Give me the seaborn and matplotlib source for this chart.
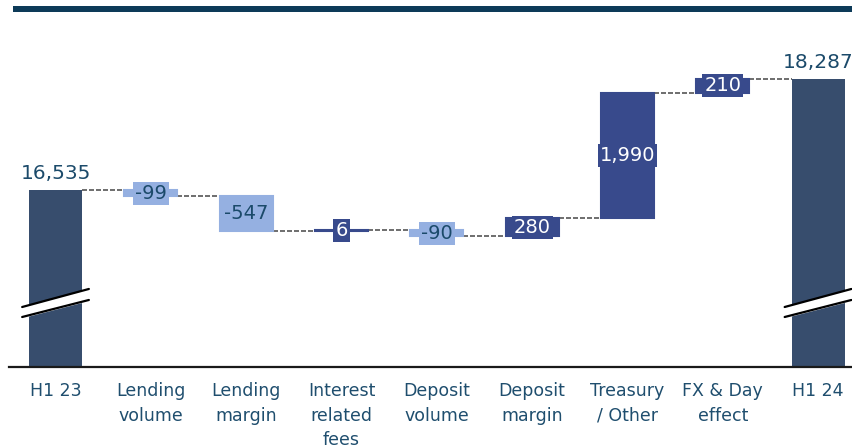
import numpy as np
import pandas as pd
import matplotlib.pyplot as plt
import seaborn as sns
from matplotlib.patches import Rectangle

# data
categories = ["H1 23", "Lending\nvolume", "Lending\nmargin", "Interest\nrelated\nfees",
              "Deposit\nvolume", "Deposit\nmargin", "Treasury\n/ Other", "FX & Day\neffect", "H1 24"]
values = [16535, -99, -547, 6, -90, 280, 1990, 210, 18287]
kinds = ["total", "delta", "delta", "delta", "delta", "delta", "delta", "delta", "total"]

# colours
c_total = "#374d6d"
c_pos = "#384a8c"
c_neg = "#95b0e1"
c_text = "#1b4a6a"
c_tick = "#1f4e6e"

# waterfall geometry from the values
bottoms, heights, colors, levels = [], [], [], []
run = 0
for v, k in zip(values, kinds):
    if k == "total":
        bottoms.append(0)
        heights.append(v)
        colors.append(c_total)
        run = v
    else:
        bottoms.append(min(run, run + v))
        heights.append(abs(v))
        colors.append(c_pos if v > 0 else c_neg)
        run = run + v
    levels.append(run)

df = pd.DataFrame({"cat": categories, "h": heights})

fig = plt.figure(figsize=(8.53, 4.48), dpi=100)
sns.set_style("white")
ax = fig.add_axes([9 / 853, 1 - 367 / 448, 1 - 9 / 853, (367 - 40) / 448])

bar_w = 0.556
sns.barplot(data=df, x="cat", y="h", hue="cat", order=categories,
            palette=dict(zip(categories, colors)), saturation=1,
            width=bar_w, errorbar=None, legend=False, ax=ax)

for p in ax.patches:
    i = int(round(p.get_x() + p.get_width() / 2))
    p.set_y(bottoms[i])
    p.set_edgecolor(colors[i])
    p.set_linewidth(1.5 if kinds[i] == "delta" else 0)
    p.set_zorder(2)

ymin, ymax = 13738, 18905
ax.set_xlim(-0.488, 8.367)
ax.set_ylim(ymin, ymax)

# dashed connectors
for i in range(len(values) - 1):
    ax.plot([i + bar_w / 2, i + 1 - bar_w / 2], [levels[i], levels[i]],
            color="#555555", lw=1.2, dashes=(3, 1.2), zorder=1)

# value labels
for i, (v, k) in enumerate(zip(values, kinds)):
    txt = f"{v:,}"
    if k == "total":
        ax.annotate(txt, (i, bottoms[i] + heights[i]), xytext=(0, 5),
                    textcoords="offset points", ha="center", va="bottom",
                    fontsize=14.5, color=c_text, zorder=5)
    else:
        ax.text(i, bottoms[i] + heights[i] / 2, txt, ha="center", va="center",
                fontsize=14, color="white" if v > 0 else c_text, zorder=5,
                bbox=dict(boxstyle="square,pad=0.1", fc=colors[i], ec="none"))

# axis break marks on the totals
for i in [0, 8]:
    xs = np.array([i - 0.35, i + 0.35])
    up = np.array([14686, 14971])
    lo = np.array([14528, 14797])
    ax.fill_between(xs, lo, up, color="white", zorder=4, clip_on=False)
    ax.plot(xs, up, color="black", lw=1.6, zorder=4, clip_on=False)
    ax.plot(xs, lo, color="black", lw=1.6, zorder=4, clip_on=False)

ax.set_xticks(range(len(categories)))
ax.set_xticklabels(categories, fontsize=12.5, color=c_tick)
for lbl in ax.get_xticklabels():
    lbl.set_linespacing(1.45)
ax.tick_params(axis="x", length=0, pad=11)
ax.set_yticks([])
ax.set_xlabel("")
ax.set_ylabel("")
for s in ["top", "left", "right"]:
    ax.spines[s].set_visible(False)
ax.spines["bottom"].set_color("#1a1a1a")
ax.spines["bottom"].set_linewidth(1.6)

# top rule
fig.add_artist(Rectangle((13 / 853, 1 - 12.5 / 448), 1 - 13 / 853, 6.5 / 448,
                         transform=fig.transFigure, color="#0d3a58", lw=0))

fig.savefig("out.png", dpi=100)
